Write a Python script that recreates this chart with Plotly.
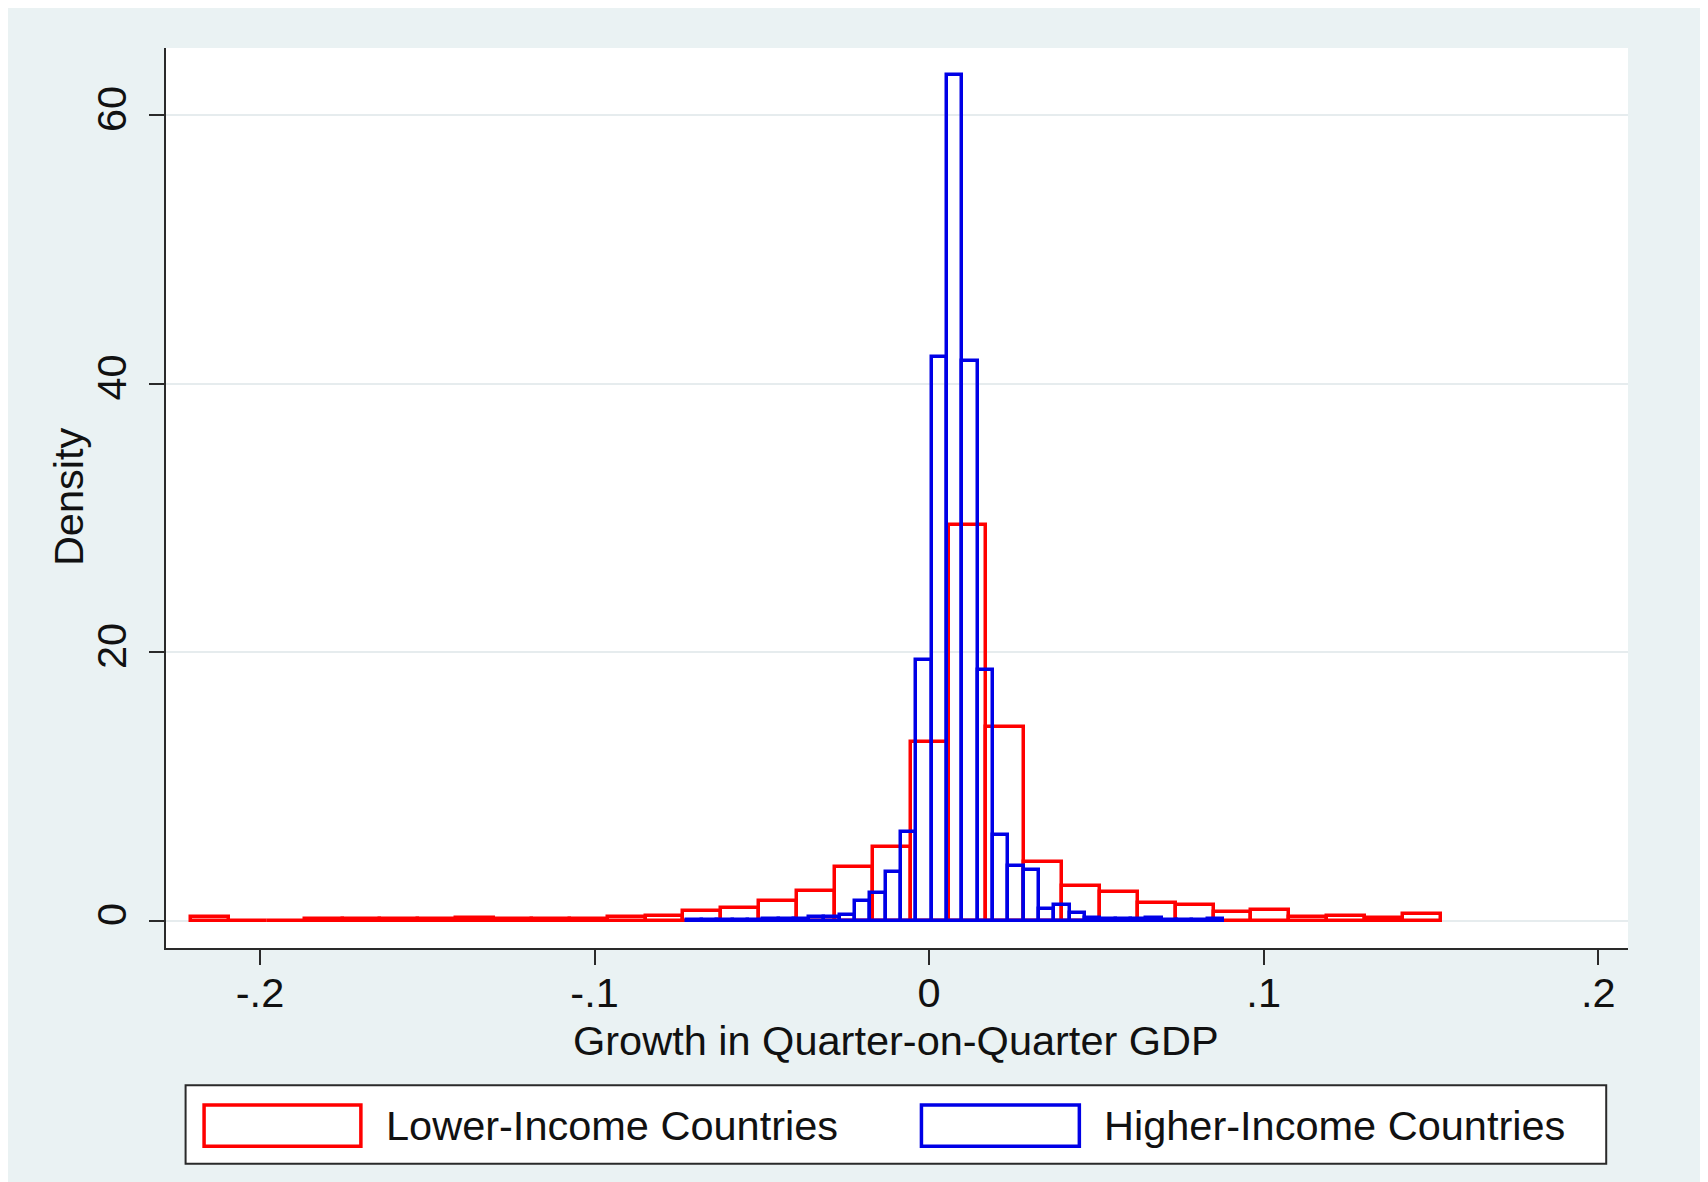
import plotly.graph_objects as go

# ---------------- data ----------------
# Lower-income countries: 33 bins
low_start = -0.2206
low_width = 0.01132
low_density = [0.3, 0, 0, 0.1, 0.1, 0.1, 0.1, 0.2, 0.1, 0.1, 0.1, 0.25, 0.35,
               0.7, 0.95, 1.5, 2.2, 4.0, 5.5, 13.3, 29.5, 14.4, 4.4, 2.6, 2.15,
               1.3, 1.15, 0.65, 0.8, 0.3, 0.35, 0.18, 0.48]

# Higher-income countries: 35 bins
high_start = -0.0725
high_width = 0.00458
high_density = [0.05, 0.05, 0.05, 0.05, 0.05, 0.15, 0.1, 0.15, 0.25, 0.25,
                0.45, 1.5, 2.1, 3.6, 6.6, 19.4, 42.0, 63.0, 41.7, 18.7, 6.4,
                4.1, 3.8, 0.9, 1.15, 0.55, 0.2, 0.1, 0.1, 0.15, 0.2, 0.05,
                0.05, 0.05, 0.15]

x_ticks = [-0.2, -0.1, 0, 0.1, 0.2]
x_tick_labels = ["-.2", "-.1", "0", ".1", ".2"]
y_ticks = [0, 20, 40, 60]
y_tick_labels = ["0", "20", "40", "60"]

series_names = ["Lower-Income Countries", "Higher-Income Countries"]
x_title = "Growth in Quarter-on-Quarter GDP"
y_title = "Density"

# ---------------- layout geometry (page pixels) ----------------
OFF = 8  # default body margin of the html page
W, H = 1708 - OFF, 1182 - OFF
PL, PR, PT, PB = 165.6, 1628.5, 48.0, 947.7
FONT = "Liberation Sans, Arial, sans-serif"
FS = 41.5
RED = "#ff0000"
BLUE = "#0000e6"
BG = "#eaf2f3"
AX = "#2a2a2a"


def px(xp):
    return (xp - PL) / (PR - PL)


def py(yp):
    return (PB - yp) / (PB - PT)


def centers(start, width, n):
    return [start + width * (i + 0.5) for i in range(n)]


fig = go.Figure()
fig.add_trace(go.Bar(
    x=centers(low_start, low_width, len(low_density)),
    y=low_density, width=low_width,
    marker=dict(color="rgba(0,0,0,0)", line=dict(color=RED, width=3.5)),
    name=series_names[0], showlegend=False))
fig.add_trace(go.Bar(
    x=centers(high_start, high_width, len(high_density)),
    y=high_density, width=high_width,
    marker=dict(color="rgba(0,0,0,0)", line=dict(color=BLUE, width=3.5)),
    name=series_names[1], showlegend=False))

fig.update_layout(
    width=W, height=H,
    margin=dict(l=PL - OFF, r=(W + OFF) - PR, t=PT - OFF, b=(H + OFF) - PB, pad=0),
    paper_bgcolor=BG, plot_bgcolor="white",
    barmode="overlay", bargap=0,
    font=dict(family=FONT, size=FS, color="#111111"),
    xaxis=dict(range=[-0.2281, 0.2089], tickvals=x_ticks, ticktext=x_tick_labels,
               showgrid=False, zeroline=False, showline=True, linecolor=AX,
               linewidth=2, ticks="outside", ticklen=15, tickwidth=2,
               tickcolor=AX, ticklabelstandoff=-8),
    yaxis=dict(range=[-2.03, 65.0], tickvals=y_ticks, ticktext=y_tick_labels,
               tickangle=-90, showgrid=True, gridcolor="#e6ecee", gridwidth=2,
               zeroline=False, showline=True, linecolor=AX, linewidth=2,
               ticks="outside", ticklen=15, tickwidth=2, tickcolor=AX,
               ticklabelstandoff=6),
)

annotations = [
    dict(text=x_title, x=px(896.5), y=py(1040), xref="paper", yref="paper",
         showarrow=False, xanchor="center", yanchor="middle",
         font=dict(size=FS, family=FONT, color="#111111")),
    dict(text=y_title, x=px(67.5), y=py(496), xref="paper", yref="paper",
         showarrow=False, xanchor="center", yanchor="middle", textangle=-90,
         font=dict(size=FS, family=FONT, color="#111111")),
    dict(text=series_names[0], x=px(383.5), y=py(1125), xref="paper", yref="paper",
         showarrow=False, xanchor="left", yanchor="middle",
         font=dict(size=FS, family=FONT, color="#111111")),
    dict(text=series_names[1], x=px(1102.5), y=py(1125), xref="paper", yref="paper",
         showarrow=False, xanchor="left", yanchor="middle",
         font=dict(size=FS, family=FONT, color="#111111")),
]
shapes = [
    dict(type="rect", xref="paper", yref="paper", x0=px(185.2), x1=px(1606.7),
         y0=py(1163.4), y1=py(1085), line=dict(color=AX, width=2),
         fillcolor="white", layer="below"),
    dict(type="rect", xref="paper", yref="paper", x0=px(203.7), x1=px(360.6),
         y0=py(1146), y1=py(1104.6), line=dict(color=RED, width=3.5),
         fillcolor="rgba(0,0,0,0)"),
    dict(type="rect", xref="paper", yref="paper", x0=px(921.5), x1=px(1079.5),
         y0=py(1146), y1=py(1104.6), line=dict(color=BLUE, width=3.5),
         fillcolor="rgba(0,0,0,0)"),
]
fig.update_layout(annotations=annotations, shapes=shapes)

fig.write_html("out.html")
